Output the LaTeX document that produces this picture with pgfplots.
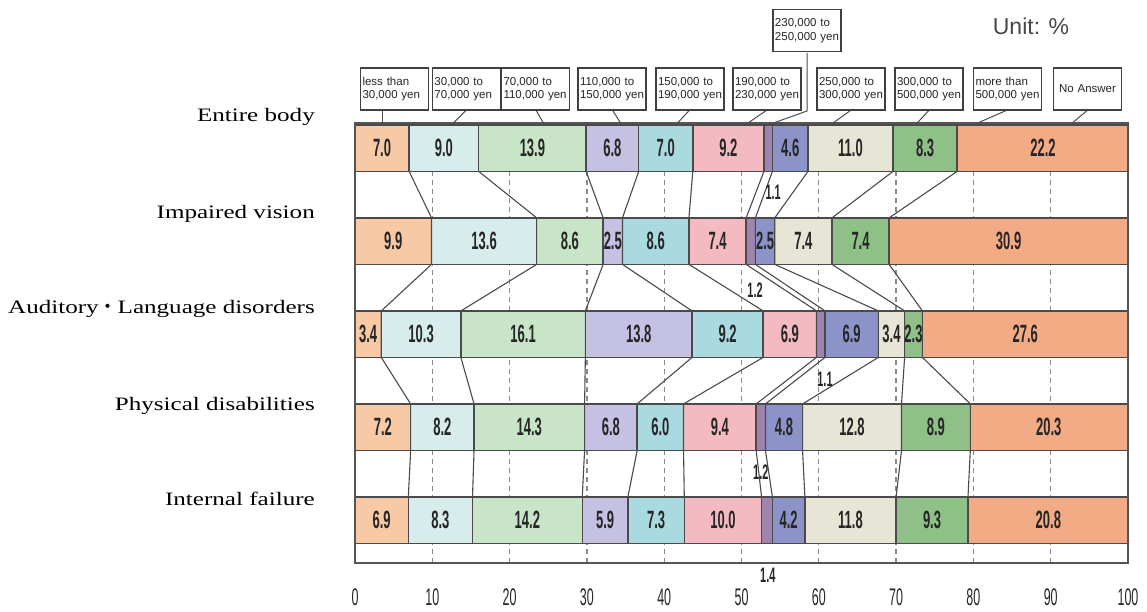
\documentclass[border=0pt]{standalone}
\usepackage{fontspec}
\setmainfont{Liberation Serif}
\newfontfamily\catfont{Liberation Serif}[FakeStretch=1.32]
\newfontfamily\numfont{Liberation Sans}[FakeStretch=0.52]
\newfontfamily\boxfont{Liberation Sans}
\newfontfamily\cjk{Noto Sans CJK JP}
\usepackage{pgfplots}
\usepackage{pgfplotstable}
\pgfplotsset{compat=1.18}

\definecolor{inc1}{HTML}{F7C9A5}
\definecolor{inc2}{HTML}{D6EDEB}
\definecolor{inc3}{HTML}{C9E5C8}
\definecolor{inc4}{HTML}{C5C1E2}
\definecolor{inc5}{HTML}{A9DAE0}
\definecolor{inc6}{HTML}{F4BAC2}
\definecolor{inc7}{HTML}{A084B0}
\definecolor{inc8}{HTML}{8C93C8}
\definecolor{inc9}{HTML}{E7E5D5}
\definecolor{inc10}{HTML}{8FC088}
\definecolor{inc11}{HTML}{F2AB85}
\definecolor{edgegray}{HTML}{4A4A4A}
\definecolor{framegray}{HTML}{555555}
\definecolor{gridgray}{HTML}{8A8A8A}

% Share of respondents (%) by monthly income bracket; row 4 = top bar
\pgfplotstableread{
row  a    b    c    d    e    f    g    h    i    j    k
4    7.0  9.0  13.9 6.8  7.0  9.2  1.1  4.6  11.0 8.3  22.2
3    9.9  13.6 8.6  2.5  8.6  7.4  1.2  2.5  7.4  7.4  30.9
2    3.4  10.3 16.1 13.8 9.2  6.9  1.1  6.9  3.4  2.3  27.6
1    7.2  8.2  14.3 6.8  6.0  9.4  1.2  4.8  12.8 8.9  20.3
0    6.9  8.3  14.2 5.9  7.3  10.0 1.4  4.2  11.8 9.3  20.8
}\shares

\pgfplotsset{
  common/.style={
    at={(355pt,48pt)}, anchor=south west,
    scale only axis, width=773pt, height=440pt,
    xmin=0, xmax=100, ymin=-0.46, ymax=4.27,
    axis line style={draw=framegray, line width=1.6pt},
  },
  link/.style={draw=edgegray, line width=1.1pt, solid, mark=none},
}

\tikzset{
  vallab/.style={font=\numfont\bfseries\fontsize{25}{25}\selectfont, text=black!85, inner sep=0pt},
  smalllab/.style={font=\numfont\bfseries\fontsize{21}{21}\selectfont, text=black!85, inner sep=0pt},
  legbox/.style={draw=black!75, line width=1.1pt, fill=white, minimum width=68pt, minimum height=42pt,
    text width=64pt, align=left, inner sep=2pt, font=\boxfont\fontsize{11.5}{13.5}\selectfont, text=black!85},
  lead/.style={draw=black!70, line width=1pt},
  catlab/.style={anchor=east, font=\catfont\fontsize{19}{21}\selectfont, text=black, inner sep=0pt},
}

\begin{document}
\begin{tikzpicture}
\useasboundingbox (0,0) rectangle (1147pt,611pt);

% stacked bars
\begin{axis}[
  common,
  xbar stacked, bar width=0.5,
  ytick=\empty,
  xtick={0,10,...,100},
  major tick length=0pt,
  /pgf/number format/assume math mode=true,
  xticklabel style={font=\numfont\fontsize{24}{24}\selectfont, text=black!85, inner sep=0pt, anchor=north, yshift=-26pt},
  xmajorgrids,
  grid style={draw=gridgray, line width=1.3pt, dash pattern=on 5pt off 4pt},
  every axis plot/.append style={draw=edgegray, line width=1.4pt},
]
\addplot[fill=inc1]  table[x=a, y=row] {\shares};
\addplot[fill=inc2]  table[x=b, y=row] {\shares};
\addplot[fill=inc3]  table[x=c, y=row] {\shares};
\addplot[fill=inc4]  table[x=d, y=row] {\shares};
\addplot[fill=inc5]  table[x=e, y=row] {\shares};
\addplot[fill=inc6]  table[x=f, y=row] {\shares};
\addplot[fill=inc7]  table[x=g, y=row] {\shares};
\addplot[fill=inc8]  table[x=h, y=row] {\shares};
\addplot[fill=inc9]  table[x=i, y=row] {\shares};
\addplot[fill=inc10] table[x=j, y=row] {\shares};
\addplot[fill=inc11] table[x=k, y=row] {\shares};
\end{axis}

% links between bracket boundaries, labels and annotations
\begin{axis}[
  common,
  xtick=\empty, ytick=\empty,
  clip=false,
]
\addplot[link] coordinates {(7.0,3.75) (9.9,3.25) (9.9,2.75) (3.4,2.25) (3.4,1.75) (7.2,1.25) (7.2,0.75) (6.9,0.25)};
\addplot[link] coordinates {(16.0,3.75) (23.5,3.25) (23.5,2.75) (13.7,2.25) (13.7,1.75) (15.4,1.25) (15.4,0.75) (15.2,0.25)};
\addplot[link] coordinates {(29.9,3.75) (32.1,3.25) (32.1,2.75) (29.8,2.25) (29.8,1.75) (29.7,1.25) (29.7,0.75) (29.4,0.25)};
\addplot[link] coordinates {(36.7,3.75) (34.6,3.25) (34.6,2.75) (43.6,2.25) (43.6,1.75) (36.5,1.25) (36.5,0.75) (35.3,0.25)};
\addplot[link] coordinates {(43.7,3.75) (43.2,3.25) (43.2,2.75) (52.8,2.25) (52.8,1.75) (42.5,1.25) (42.5,0.75) (42.6,0.25)};
\addplot[link] coordinates {(52.9,3.75) (50.6,3.25) (50.6,2.75) (59.7,2.25) (59.7,1.75) (51.9,1.25) (51.9,0.75) (52.6,0.25)};
\addplot[link] coordinates {(54.0,3.75) (51.8,3.25) (51.8,2.75) (60.8,2.25) (60.8,1.75) (53.1,1.25) (53.1,0.75) (54.0,0.25)};
\addplot[link] coordinates {(58.6,3.75) (54.3,3.25) (54.3,2.75) (67.7,2.25) (67.7,1.75) (57.9,1.25) (57.9,0.75) (58.2,0.25)};
\addplot[link] coordinates {(69.6,3.75) (61.7,3.25) (61.7,2.75) (71.1,2.25) (71.1,1.75) (70.7,1.25) (70.7,0.75) (70.0,0.25)};
\addplot[link] coordinates {(77.9,3.75) (69.1,3.25) (69.1,2.75) (73.4,2.25) (73.4,1.75) (79.6,1.25) (79.6,0.75) (79.3,0.25)};

% values inside the segments
\node[vallab] at (axis cs:3.5,4) {7.0};
\node[vallab] at (axis cs:11.5,4) {9.0};
\node[vallab] at (axis cs:22.95,4) {13.9};
\node[vallab] at (axis cs:33.3,4) {6.8};
\node[vallab] at (axis cs:40.2,4) {7.0};
\node[vallab] at (axis cs:48.3,4) {9.2};
\node[vallab] at (axis cs:56.3,4) {4.6};
\node[vallab] at (axis cs:64.1,4) {11.0};
\node[vallab] at (axis cs:73.75,4) {8.3};
\node[vallab] at (axis cs:89.0,4) {22.2};

\node[vallab] at (axis cs:4.95,3) {9.9};
\node[vallab] at (axis cs:16.7,3) {13.6};
\node[vallab] at (axis cs:27.8,3) {8.6};
\node[vallab] at (axis cs:33.35,3) {2.5};
\node[vallab] at (axis cs:38.9,3) {8.6};
\node[vallab] at (axis cs:46.9,3) {7.4};
\node[vallab] at (axis cs:53.05,3) {2.5};
\node[vallab] at (axis cs:58.0,3) {7.4};
\node[vallab] at (axis cs:65.4,3) {7.4};
\node[vallab] at (axis cs:84.55,3) {30.9};

\node[vallab] at (axis cs:1.7,2) {3.4};
\node[vallab] at (axis cs:8.55,2) {10.3};
\node[vallab] at (axis cs:21.75,2) {16.1};
\node[vallab] at (axis cs:36.7,2) {13.8};
\node[vallab] at (axis cs:48.2,2) {9.2};
\node[vallab] at (axis cs:56.25,2) {6.9};
\node[vallab] at (axis cs:64.25,2) {6.9};
\node[vallab] at (axis cs:69.4,2) {3.4};
\node[vallab] at (axis cs:72.25,2) {2.3};
\node[vallab] at (axis cs:86.7,2) {27.6};

\node[vallab] at (axis cs:3.6,1) {7.2};
\node[vallab] at (axis cs:11.3,1) {8.2};
\node[vallab] at (axis cs:22.55,1) {14.3};
\node[vallab] at (axis cs:33.1,1) {6.8};
\node[vallab] at (axis cs:39.5,1) {6.0};
\node[vallab] at (axis cs:47.2,1) {9.4};
\node[vallab] at (axis cs:55.5,1) {4.8};
\node[vallab] at (axis cs:64.3,1) {12.8};
\node[vallab] at (axis cs:75.15,1) {8.9};
\node[vallab] at (axis cs:89.75,1) {20.3};

\node[vallab] at (axis cs:3.45,0) {6.9};
\node[vallab] at (axis cs:11.05,0) {8.3};
\node[vallab] at (axis cs:22.3,0) {14.2};
\node[vallab] at (axis cs:32.35,0) {5.9};
\node[vallab] at (axis cs:38.95,0) {7.3};
\node[vallab] at (axis cs:47.6,0) {10.0};
\node[vallab] at (axis cs:56.1,0) {4.2};
\node[vallab] at (axis cs:64.1,0) {11.8};
\node[vallab] at (axis cs:74.65,0) {9.3};
\node[vallab] at (axis cs:89.7,0) {20.8};

% values of the narrow 230,000-250,000 yen segments
\node[smalllab] at (axis cs:54.1,3.52) {1.1};
\node[smalllab] at (axis cs:51.75,2.47) {1.2};
\node[smalllab] at (axis cs:60.8,1.51) {1.1};
\node[smalllab] at (axis cs:52.5,0.52) {1.2};
\node[smalllab] at (axis cs:53.4,-0.59) {1.4};

% row labels
\node[catlab] at (axis cs:0,4.33) [xshift=-40pt] {Entire body};
\node[catlab] at (axis cs:0,3.29) [xshift=-40pt] {Impaired vision};
\node[catlab] at (axis cs:0,2.27) [xshift=-40pt] {Auditory{\cjk ・}Language disorders};
\node[catlab] at (axis cs:0,1.23) [xshift=-40pt] {Physical disabilities};
\node[catlab] at (axis cs:0,0.23) [xshift=-40pt] {Internal failure};

% bracket key boxes with leaders
\draw[lead] (axis cs:3.5,4.41) -- (axis cs:3.5,4.25);
\draw[lead] (axis cs:14.4,4.41) -- (axis cs:12.5,4.25);
\draw[lead] (axis cs:23.4,4.41) -- (axis cs:24.5,4.25);
\draw[lead] (axis cs:33.3,4.41) -- (axis cs:34.5,4.25);
\draw[lead] (axis cs:43.3,4.41) -- (axis cs:41.5,4.25);
\draw[lead] (axis cs:53.3,4.41) -- (axis cs:50.5,4.25);
\draw[lead] (axis cs:58.5,5.02) -- (axis cs:58.5,4.40) -- (axis cs:53.45,4.25);
\draw[lead] (axis cs:64.2,4.41) -- (axis cs:61.5,4.25);
\draw[lead] (axis cs:74.3,4.41) -- (axis cs:72.5,4.25);
\draw[lead] (axis cs:84.4,4.41) -- (axis cs:80.0,4.25);
\draw[lead] (axis cs:94.8,4.41) -- (axis cs:92.5,4.25);

\node[legbox] at (axis cs:5.11,4.635) {less than\\30,000 yen};
\node[legbox] at (axis cs:14.42,4.635) {30,000 to\\70,000 yen};
\node[legbox] at (axis cs:23.35,4.635) {70,000 to\\110,000 yen};
\node[legbox] at (axis cs:33.25,4.635) {110,000 to\\150,000 yen};
\node[legbox] at (axis cs:43.34,4.635) {150,000 to\\190,000 yen};
\node[legbox] at (axis cs:53.30,4.635) {190,000 to\\230,000 yen};
\node[legbox] at (axis cs:58.47,5.26) {230,000 to\\250,000 yen};
\node[legbox] at (axis cs:64.17,4.635) {250,000 to\\300,000 yen};
\node[legbox] at (axis cs:74.26,4.635) {300,000 to\\500,000 yen};
\node[legbox] at (axis cs:84.41,4.635) {more than\\500,000 yen};
\node[legbox, align=center] at (axis cs:94.76,4.635) {No Answer};

\node[font=\boxfont\fontsize{23}{23}\selectfont, text=black!72] at (axis cs:87.45,5.31) {Unit: \%};
\end{axis}
\end{tikzpicture}
\end{document}
